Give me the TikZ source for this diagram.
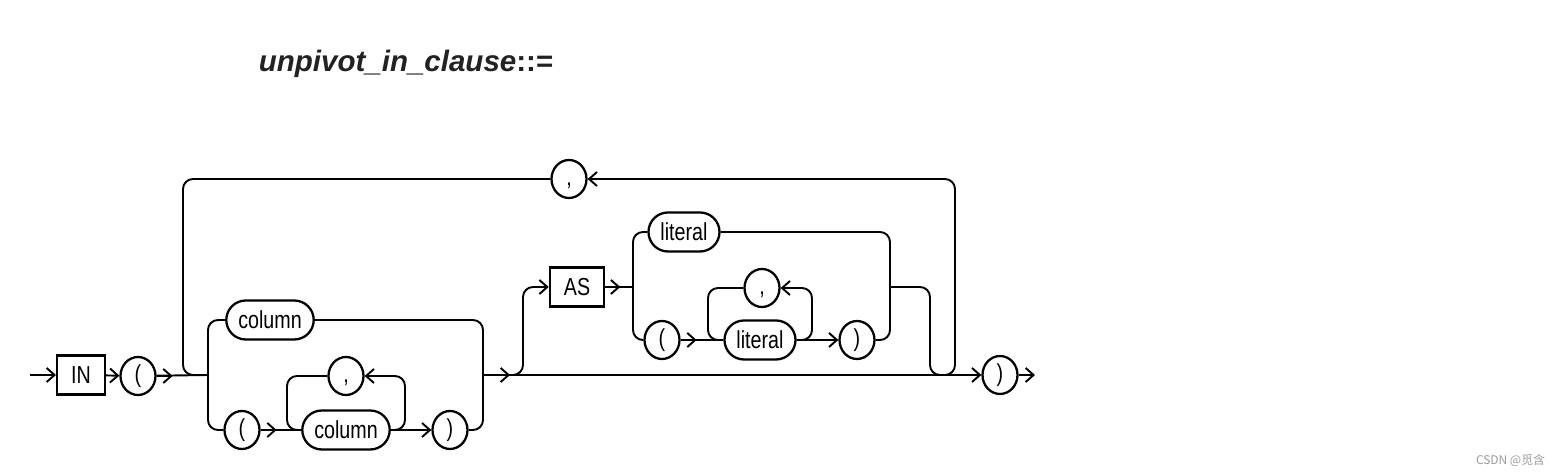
\documentclass[tikz,border=0pt]{standalone}
\usepackage{fontspec}
\setmainfont{Liberation Sans}
\newfontfamily\rrfont[FakeStretch=0.8]{Liberation Sans}
\newfontfamily\cjk{Noto Sans CJK SC}
\usepackage{tikz}
\usetikzlibrary{arrows.meta,shapes.geometric}
\definecolor{Title}{HTML}{222222}
\definecolor{Mark}{HTML}{9A9A9A}

\begin{document}
\begin{tikzpicture}[x=0.02cm,y=-0.02cm,line width=1.1pt,>={Straight Barb[length=4.5pt,width=8pt]},
    font=\rrfont\fontsize{14}{16}\selectfont,
    kw/.style={draw,rectangle,line width=1.3pt,minimum height=0.78cm,inner xsep=0.28cm},
    ref/.style={draw,rectangle,rounded corners=0.39cm,line width=1.3pt,minimum height=0.78cm,inner xsep=0.24cm},
    sym/.style={draw,ellipse,line width=1.3pt,minimum width=0.7cm,minimum height=0.76cm,inner sep=0pt,text height=1.6ex,text depth=0.3ex},
    rc/.style={rounded corners=0.2cm}]
        \useasboundingbox (0,0) rectangle (1563,475);
        \node[anchor=base west,text=Title,font=\normalfont\fontsize{16.8}{20}\selectfont] (title) at (252,72) {\bfseries\itshape unpivot\_in\_clause\upshape::=};
        % nodes
        \node[kw] (in) at (81,375) {IN};
        \node[sym] (lpa) at (138,376) {(};
        \node[ref] (colA) at (270,320) {column};
        \node[sym] (lpb) at (242,430) {(};
        \node[ref] (colB) at (346,430) {column};
        \node[sym] (cmb) at (346,376) {,};
        \node[sym] (rpb) at (450,430) {)};
        \node[sym] (cma) at (569,179) {,};
        \node[kw] (as) at (577,287) {AS};
        \node[ref] (litA) at (684,232) {literal};
        \node[sym] (lpc) at (662,340) {(};
        \node[ref] (litB) at (760,340) {literal};
        \node[sym] (cmc) at (762,288) {,};
        \node[sym] (rpc) at (857,340) {)};
        \node[sym] (rpd) at (1000,375) {)};
        \coordinate (start) at (30,375);
        \coordinate (end) at (1035,375);
        \coordinate (j1) at (208,375);
        \coordinate (j2) at (483,375);
        \coordinate (j3) at (633,287);
        \coordinate (j4) at (890,287);
        % main line
        \draw[->] (start)--(in);
        \draw[->] (in)--(lpa);
        \draw (lpa)--(j1);
        \draw[->] (lpa.east)--++(16,0);
        \draw[->] (j2)--(rpd);
        \draw[->] (j2)--++(27,0);
        \draw[->] (rpd)--(end);
        % outer repeat
        \draw[rc,->] (945,375)-|(955,179)--(cma);
        \draw[rc] (cma)-|(183,375)--(196,375);
        % column choice
        \draw[rc] (colA)-|(j1)|-(lpb);
        \draw[rc] (colA)-|(j2)|-(rpb);
        \draw (lpb)--(colB);
        \draw[->] (lpb.east)--++(16,0);
        \draw[rc,->] (colB.east)-|(405,376)--(cmb);
        \draw[rc] (cmb)-|(287,430)--(colB);
        \draw[->] (colB)--(rpb);
        % optional AS part
        \draw[rc,->] (511,375)-|(523,287)--(as);
        \draw (as)--(j3);
        \draw[->] (as.east)--++(15,0);
        \draw[rc] (litA)-|(j3)|-(lpc);
        \draw[rc] (litA)-|(j4)|-(rpc);
        \draw (lpc)--(litB);
        \draw[->] (lpc.east)--++(16,0);
        \draw[rc,->] (litB.east)-|(812,288)--(cmc);
        \draw[rc] (cmc)-|(708,340)--(litB);
        \draw[->] (litB)--(rpc);
        \draw[rc] (j4)-|(930,375)--(946,375);
        \node[anchor=base east,text=Mark,font=\cjk\fontsize{6.8}{8}\selectfont] (mark) at (1552,465) {CSDN @觅含};
      \end{tikzpicture}
\end{document}
